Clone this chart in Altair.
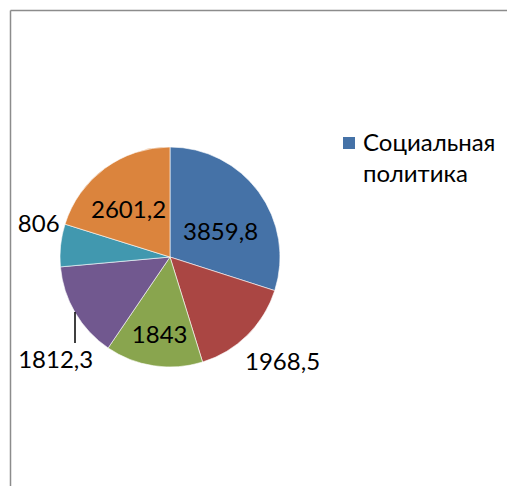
import altair as alt
import pandas as pd

values = [3859.8, 1968.5, 1843, 1812.3, 806, 2601.2]
labels = ["3859,8", "1968,5", "1843", "1812,3", "806", "2601,2"]
colors = ["#4572A7", "#AA4643", "#89A54E", "#71588F", "#4198AF", "#DB843D"]
legend_lines = ["Социальная", "политика"]

df = pd.DataFrame({"idx": list(range(len(values))), "value": values, "label": labels})
one = pd.DataFrame({"k": [0]})

W, H = 499, 478
CX, CY, R = 162, 249, 110
FONT = "Lato"
FS = 24

base = alt.Chart(df).encode(
    theta=alt.Theta("value:Q", stack=True),
    order=alt.Order("idx:Q"),
)

pie = base.mark_arc(radius=R, stroke="white", strokeWidth=0.6).encode(
    color=alt.Color("idx:N", scale=alt.Scale(domain=list(range(len(values))), range=colors), legend=None),
    x=alt.value(CX), y=alt.value(CY),
)


def label_layer(test, radius, dx=0, dy=0):
    return base.mark_text(radius=radius, dx=dx, dy=dy, font=FONT, fontSize=FS, color="black").encode(
        text="label:N", x=alt.value(CX), y=alt.value(CY),
        opacity=alt.condition(test, alt.value(1), alt.value(0)),
    )


# label placement like the spreadsheet's "best fit": inside for big slices, outside for the rest
lbl_blue = label_layer("datum.idx == 0", 70, dx=-6, dy=17)
lbl_in = label_layer("datum.idx == 2 || datum.idx == 5", 70, dy=10)
lbl_red = label_layer("datum.idx == 1", 150, dx=7, dy=-1)
lbl_purple = label_layer("datum.idx == 3", 150, dx=15, dy=28)
lbl_teal = label_layer("datum.idx == 4", 132, dy=-18)

lead_line = alt.Chart(one).mark_rule(color="black", strokeWidth=1.5).encode(
    x=alt.value(67), y=alt.value(304), y2=alt.value(335))

leg_sq = alt.Chart(one).mark_square(size=144, color=colors[0], opacity=1).encode(
    x=alt.value(341), y=alt.value(135))
leg_txt = alt.Chart(one).mark_text(text=legend_lines, align="left", baseline="alphabetic",
                                   lineHeight=31, font=FONT, fontSize=FS, color="black").encode(
    x=alt.value(355), y=alt.value(143))

frame_l = alt.Chart(one).mark_rule(color="#8c8c8c", strokeWidth=1.5).encode(
    x=alt.value(2.5), y=alt.value(2.5), y2=alt.value(H + 8))
frame_t = alt.Chart(one).mark_rule(color="#8c8c8c", strokeWidth=1.5).encode(
    x=alt.value(2.5), x2=alt.value(W + 8), y=alt.value(2.5))

chart = alt.layer(pie, lbl_blue, lbl_in, lbl_red, lbl_purple, lbl_teal, lead_line,
                  leg_sq, leg_txt, frame_l, frame_t).properties(
    width=W, height=H, autosize="none", padding=0
).configure_view(stroke=None)

chart.save("out.html", embed_options={"renderer": "svg", "actions": False})
